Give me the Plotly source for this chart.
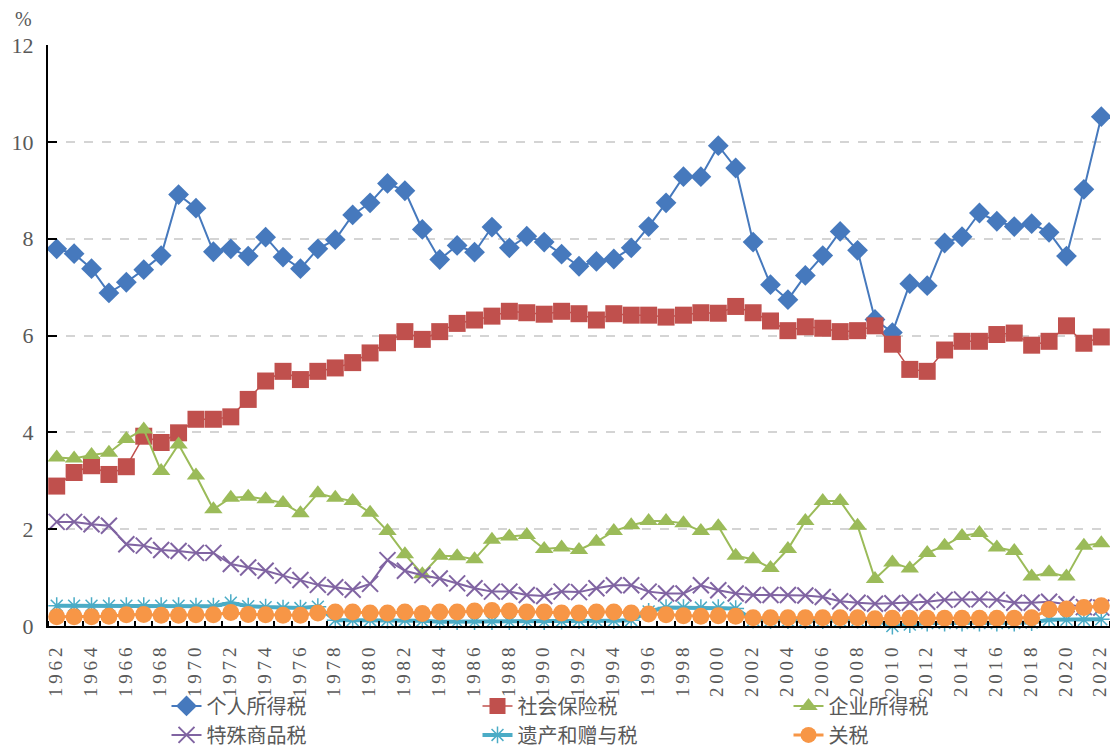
import plotly.graph_objects as go

years = list(range(1962, 2023))

personal_income = [7.79, 7.69, 7.38, 6.88, 7.10, 7.36, 7.65, 8.91, 8.63, 7.73,
                   7.79, 7.64, 8.03, 7.62, 7.38, 7.79, 7.98, 8.49, 8.74, 9.14,
                   8.99, 8.19, 7.57, 7.86, 7.72, 8.24, 7.81, 8.05, 7.93, 7.68,
                   7.43, 7.53, 7.58, 7.81, 8.25, 8.74, 9.28, 9.28, 9.92, 9.46,
                   7.93, 7.05, 6.74, 7.24, 7.65, 8.15, 7.76, 6.33, 6.06, 7.07,
                   7.03, 7.91, 8.04, 8.53, 8.36, 8.25, 8.31, 8.13, 7.64, 9.02,
                   10.52]

social_insurance = [2.89, 3.17, 3.31, 3.13, 3.29, 3.92, 3.79, 3.99, 4.27, 4.27,
                    4.32, 4.68, 5.06, 5.26, 5.09, 5.26, 5.33, 5.44, 5.64, 5.85,
                    6.08, 5.92, 6.08, 6.25, 6.32, 6.40, 6.50, 6.47, 6.44, 6.50,
                    6.45, 6.32, 6.45, 6.42, 6.42, 6.38, 6.42, 6.47, 6.46, 6.60,
                    6.47, 6.30, 6.10, 6.18, 6.15, 6.08, 6.10, 6.20, 5.82, 5.30,
                    5.26, 5.70, 5.88, 5.88, 6.02, 6.05, 5.80, 5.88, 6.20, 5.84,
                    5.97]

corporate_income = [3.48, 3.46, 3.53, 3.58, 3.86, 4.06, 3.20, 3.75, 3.11, 2.41,
                    2.65, 2.67, 2.62, 2.54, 2.33, 2.74, 2.65, 2.58, 2.34, 1.96,
                    1.48, 1.07, 1.45, 1.44, 1.38, 1.78, 1.85, 1.88, 1.59, 1.62,
                    1.57, 1.74, 1.96, 2.08, 2.17, 2.17, 2.12, 1.96, 2.06, 1.45,
                    1.38, 1.20, 1.59, 2.17, 2.58, 2.58, 2.07, 0.97, 1.31, 1.19,
                    1.51, 1.66, 1.86, 1.92, 1.62, 1.55, 1.02, 1.11, 1.02, 1.66,
                    1.71]

excise = [2.15, 2.15, 2.10, 2.07, 1.69, 1.66, 1.57, 1.55, 1.51, 1.51,
          1.28, 1.21, 1.14, 1.04, 0.95, 0.85, 0.80, 0.75, 0.87, 1.36,
          1.14, 1.05, 0.98, 0.88, 0.78, 0.71, 0.71, 0.64, 0.62, 0.71,
          0.70, 0.78, 0.84, 0.84, 0.71, 0.67, 0.67, 0.84, 0.74, 0.67,
          0.64, 0.64, 0.64, 0.63, 0.60, 0.51, 0.48, 0.46, 0.47, 0.48,
          0.50, 0.54, 0.55, 0.55, 0.54, 0.48, 0.48, 0.50, 0.45, 0.39,
          0.38]

estate_gift = [0.42, 0.42, 0.42, 0.42, 0.42, 0.42, 0.42, 0.42, 0.41, 0.41,
               0.48, 0.41, 0.39, 0.37, 0.37, 0.40, 0.12, 0.12, 0.12, 0.12,
               0.12, 0.11, 0.09, 0.09, 0.09, 0.09, 0.09, 0.09, 0.09, 0.10,
               0.11, 0.11, 0.11, 0.12, 0.30, 0.38, 0.38, 0.38, 0.38, 0.36,
               0.12, 0.11, 0.11, 0.11, 0.11, 0.11, 0.12, 0.12, 0.00, 0.03,
               0.06, 0.06, 0.06, 0.06, 0.06, 0.06, 0.07, 0.13, 0.13, 0.13,
               0.14]

customs = [0.19, 0.19, 0.19, 0.20, 0.23, 0.24, 0.22, 0.22, 0.23, 0.23,
           0.28, 0.24, 0.23, 0.22, 0.22, 0.27, 0.29, 0.29, 0.27, 0.27,
           0.29, 0.26, 0.29, 0.29, 0.31, 0.32, 0.31, 0.29, 0.29, 0.27,
           0.27, 0.29, 0.29, 0.27, 0.25, 0.23, 0.21, 0.20, 0.21, 0.20,
           0.17, 0.17, 0.17, 0.17, 0.17, 0.17, 0.17, 0.15, 0.16, 0.16,
           0.16, 0.16, 0.16, 0.16, 0.16, 0.16, 0.17, 0.34, 0.35, 0.38,
           0.42]

series_names = ["个人所得税", "社会保险税", "企业所得税", "特殊商品税", "遗产和赠与税", "关税"]

tick_years = years[::2]
tick_text = ["\u2009".join(str(y)) for y in tick_years]

GREY = "#595959"
SERIF = "Liberation Serif, Times New Roman, serif"
CJK = "Noto Sans CJK SC, sans-serif"

styles = [
    dict(color="#4679BD", symbol="diamond", size=16, lw=2, open=False),
    dict(color="#C0504D", symbol="square", size=17, lw=1.5, open=False),
    dict(color="#9BBB59", symbol="triangle-up", size=16, lw=2, open=False),
    dict(color="#8064A2", symbol="x-thin-open", size=16, lw=2, open=True),
    dict(color="#4BACC6", symbol="asterisk-open", size=14, lw=4, open=True),
    dict(color="#F79646", symbol="circle", size=17, lw=3, open=False),
]
data = [personal_income, social_insurance, corporate_income, excise, estate_gift, customs]

fig = go.Figure()
for name, vals, st in zip(series_names, data, styles):
    if st["open"]:
        marker = dict(symbol=st["symbol"], size=st["size"], color=st["color"],
                      line=dict(color=st["color"], width=2 if st["symbol"].startswith("x") else 1.5))
    else:
        marker = dict(symbol=st["symbol"], size=st["size"], color=st["color"], line=dict(width=0))
    fig.add_trace(go.Scatter(
        x=years, y=vals, name=name, mode="lines+markers",
        line=dict(color=st["color"], width=st["lw"]),
        marker=marker, cliponaxis=False,
    ))

fig.update_layout(
    template="none",
    width=1110, height=751,
    margin=dict(l=48, r=0, t=45, b=125),
    paper_bgcolor="white", plot_bgcolor="white",
    showlegend=True,
    legend=dict(
        orientation="h", xref="container", yref="container",
        x=0.15, xanchor="left", y=0.086, yanchor="top",
        entrywidth=266, entrywidthmode="pixels",
        font=dict(family=CJK, size=20, color=GREY),
        bgcolor="rgba(0,0,0,0)", borderwidth=0, tracegroupgap=0,
    ),
    xaxis=dict(
        range=[1961.5, 2022.5], automargin=False,
        tickmode="array", tickvals=tick_years, ticktext=tick_text,
        tickangle=-90, ticks="", showgrid=False, zeroline=False,
        showline=True, linecolor="black", linewidth=2,
        tickfont=dict(family=SERIF, size=19, color=GREY),
        ticklabelstandoff=12, ticklabeloverflow="allow", ticklabelshift=-1,
        minor=dict(tickmode="linear", tick0=1961.5, dtick=1, ticks="inside",
                   ticklen=5, tickwidth=1.5, tickcolor="black", showgrid=False),
    ),
    yaxis=dict(
        range=[0, 12], tickmode="linear", tick0=0, dtick=2, automargin=False,
        ticks="inside", ticklen=9, tickwidth=1.5, tickcolor="black",
        showline=True, linecolor="black", linewidth=2,
        showgrid=True, gridcolor="#D4D4D4", gridwidth=1.5, griddash="dash",
        zeroline=False,
        tickfont=dict(family=SERIF, size=22, color=GREY),
        ticklabelstandoff=8,
    ),
    annotations=[dict(
        text="%", xref="paper", yref="paper", x=0, y=1, xanchor="right", yanchor="bottom",
        xshift=-14, yshift=13, showarrow=False,
        font=dict(family=SERIF, size=20, color=GREY),
    )],
)

fig.write_html("out.html", config={"displayModeBar": False},
               post_script="document.body.style.margin='0';")
